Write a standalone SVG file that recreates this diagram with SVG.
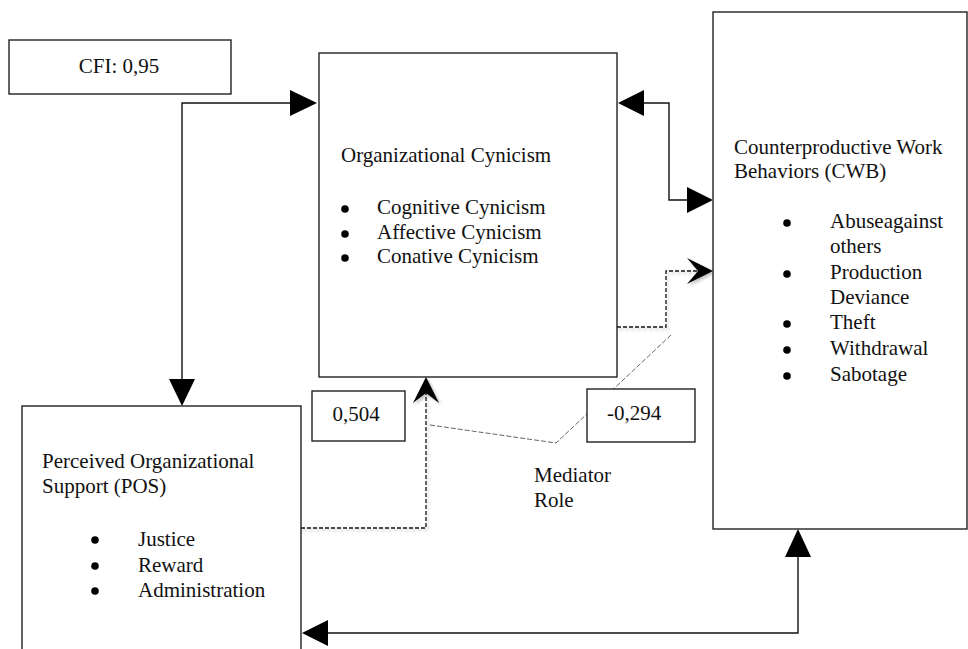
<svg xmlns="http://www.w3.org/2000/svg" width="968" height="649" viewBox="0 0 968 649">
<style>
.box{fill:#fff;stroke:#222;stroke-width:1.4}
.t{font-family:"Liberation Serif","Times New Roman",serif;font-size:21px;fill:#111}
.solid{fill:none;stroke:#111;stroke-width:1.4}
.dash{fill:none;stroke:#111;stroke-width:1.3;stroke-dasharray:4 2}
.grey{fill:none;stroke:#666;stroke-width:1;stroke-dasharray:5 2}
.head{fill:#000}
.dot{fill:#000}
</style>
<defs>
<filter id="sh" x="-20%" y="-20%" width="140%" height="140%">
<feDropShadow dx="2" dy="2" stdDeviation="1.5" flood-color="#000" flood-opacity="0.25"/>
</filter>
</defs>
<rect width="968" height="649" fill="#fff"/>
<g id="connectors">
<polyline class="solid" points="290,103 182,103 182,380"/>
<polygon class="head" points="317,103 290,90 290,116"/>
<polygon class="head" points="182,406 169,379 195,379"/>
<polyline class="solid" points="644,103 669,103 669,200 687,200"/>
<polygon class="head" points="618,103 644,90 644,116"/>
<polygon class="head" points="713,200 687,187 687,213"/>
<polyline class="solid" points="328,633 798,633 798,557"/>
<polygon class="head" points="302,633 328,620 328,646"/>
<polygon class="head" points="798,529 785,557 811,557"/>
<g filter="url(#sh)">
<polyline class="dash" points="301,528 426,528 426,393"/>
<polygon class="head" points="426,377 413,403 426,393 439,403"/>
<polyline class="dash" points="617,327 666,327 666,271 698,271"/>
<polygon class="head" points="713,271 687,258 698,271 687,284"/>
</g>
<polyline class="grey" points="430,425 556,443 671,335"/>
</g>
<g id="cfi">
<rect class="box" x="9" y="40" width="222" height="54"/>
<text class="t" x="119" y="73" text-anchor="middle">CFI: 0,95</text>
</g>
<g id="org-cynicism">
<rect class="box" x="319" y="53" width="298" height="324"/>
<text class="t" x="341" y="162">Organizational Cynicism</text>
<circle class="dot" cx="345" cy="209" r="3.8"/><text class="t" x="377" y="214">Cognitive Cynicism</text>
<circle class="dot" cx="345" cy="234" r="3.8"/><text class="t" x="377" y="239">Affective Cynicism</text>
<circle class="dot" cx="345" cy="258" r="3.8"/><text class="t" x="377" y="263">Conative Cynicism</text>
</g>
<g id="cwb">
<rect class="box" x="713" y="12" width="254" height="517"/>
<text class="t" x="734" y="154">Counterproductive Work</text>
<text class="t" x="734" y="178">Behaviors (CWB)</text>
<circle class="dot" cx="787" cy="223" r="3.8"/><text class="t" x="830" y="228">Abuseagainst</text>
<text class="t" x="830" y="253">others</text>
<circle class="dot" cx="787" cy="274" r="3.8"/><text class="t" x="830" y="279">Production</text>
<text class="t" x="830" y="304">Deviance</text>
<circle class="dot" cx="787" cy="324" r="3.8"/><text class="t" x="830" y="329">Theft</text>
<circle class="dot" cx="787" cy="350" r="3.8"/><text class="t" x="830" y="355">Withdrawal</text>
<circle class="dot" cx="787" cy="376" r="3.8"/><text class="t" x="830" y="381">Sabotage</text>
</g>
<g id="pos">
<rect class="box" x="22" y="406" width="279" height="260"/>
<text class="t" x="42" y="468">Perceived Organizational</text>
<text class="t" x="42" y="493">Support (POS)</text>
<circle class="dot" cx="95" cy="540" r="3.8"/><text class="t" x="138" y="546">Justice</text>
<circle class="dot" cx="95" cy="566" r="3.8"/><text class="t" x="138" y="572">Reward</text>
<circle class="dot" cx="95" cy="591" r="3.8"/><text class="t" x="138" y="597">Administration</text>
</g>
<g id="coef-504">
<rect class="box" x="312" y="391" width="93" height="50"/>
<text class="t" x="356" y="421" text-anchor="middle">0,504</text>
</g>
<g id="coef-294">
<rect class="box" x="587" y="389" width="108" height="53"/>
<text class="t" x="607" y="420">-0,294</text>
</g>
<g id="mediator-label">
<text class="t" x="534" y="482">Mediator</text>
<text class="t" x="534" y="507">Role</text>
</g>
</svg>
